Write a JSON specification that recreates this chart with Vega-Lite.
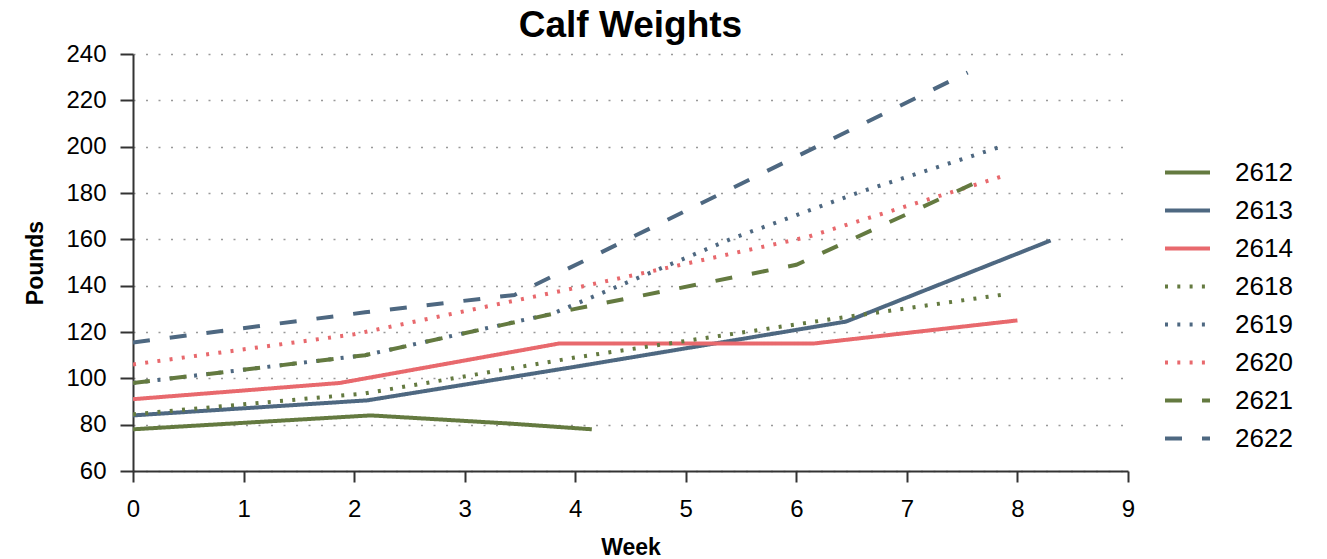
{
  "$schema": "https://vega.github.io/schema/vega-lite/v6.json",
  "width": 995,
  "height": 417,
  "autosize": {"type": "none"},
  "padding": {"left": 133, "top": 54, "right": 199, "bottom": 88},
  "background": "white",
  "title": {"text": "Calf Weights", "fontSize": 37, "font": "Liberation Sans", "fontWeight": "bold", "color": "#000000", "anchor": "middle", "offset": -3},
  "data": {"values": [
    {"id": "2612", "week": 0, "pounds": 78},
    {"id": "2612", "week": 2.15, "pounds": 84},
    {"id": "2612", "week": 3.4, "pounds": 80.5},
    {"id": "2612", "week": 4.15, "pounds": 78},
    {"id": "2613", "week": 0, "pounds": 84},
    {"id": "2613", "week": 2.12, "pounds": 90.5},
    {"id": "2613", "week": 4, "pounds": 105},
    {"id": "2613", "week": 6.45, "pounds": 124.5},
    {"id": "2613", "week": 8.3, "pounds": 159.5},
    {"id": "2614", "week": 0, "pounds": 91},
    {"id": "2614", "week": 1.87, "pounds": 98},
    {"id": "2614", "week": 3.85, "pounds": 115},
    {"id": "2614", "week": 6.15, "pounds": 115},
    {"id": "2614", "week": 8.0, "pounds": 125},
    {"id": "2618", "week": 0, "pounds": 84.5},
    {"id": "2618", "week": 2.1, "pounds": 93.5},
    {"id": "2618", "week": 4, "pounds": 109},
    {"id": "2618", "week": 6.45, "pounds": 126.5},
    {"id": "2618", "week": 7.85, "pounds": 136},
    {"id": "2619", "week": 0, "pounds": 98},
    {"id": "2619", "week": 2.1, "pounds": 110},
    {"id": "2619", "week": 3.8, "pounds": 128},
    {"id": "2619", "week": 5.4, "pounds": 160},
    {"id": "2619", "week": 6.55, "pounds": 180},
    {"id": "2619", "week": 7.85, "pounds": 200},
    {"id": "2620", "week": 0, "pounds": 106},
    {"id": "2620", "week": 2, "pounds": 119},
    {"id": "2620", "week": 4, "pounds": 139},
    {"id": "2620", "week": 6.1, "pounds": 161},
    {"id": "2620", "week": 7.85, "pounds": 187},
    {"id": "2621", "week": 0, "pounds": 98},
    {"id": "2621", "week": 2.1, "pounds": 110},
    {"id": "2621", "week": 4, "pounds": 130},
    {"id": "2621", "week": 6, "pounds": 149},
    {"id": "2621", "week": 7.6, "pounds": 184},
    {"id": "2622", "week": 0, "pounds": 115.5},
    {"id": "2622", "week": 2.1, "pounds": 128.5},
    {"id": "2622", "week": 3.45, "pounds": 136},
    {"id": "2622", "week": 7.55, "pounds": 232}
  ]},
  "mark": {"type": "line", "strokeWidth": 4, "strokeCap": "butt", "clip": true},
  "encoding": {
    "x": {
      "field": "week", "type": "quantitative",
      "scale": {"domain": [0, 9], "nice": false, "zero": false},
      "axis": {
        "title": "Week", "values": [0,1,2,3,4,5,6,7,8,9], "format": "d", "labelFlush": false,
        "grid": false, "domainColor": "#333333", "domainWidth": 2,
        "tickColor": "#333333", "tickWidth": 2, "tickSize": 11,
        "labelFont": "Liberation Sans", "labelFontSize": 24, "labelColor": "#000000", "labelPadding": 15,
        "titleFont": "Liberation Sans", "titleFontSize": 23, "titleFontWeight": "bold", "titleColor": "#000000", "titlePadding": 15
      }
    },
    "y": {
      "field": "pounds", "type": "quantitative",
      "scale": {"domain": [60, 240], "nice": false, "zero": false},
      "axis": {
        "title": "Pounds", "values": [60,80,100,120,140,160,180,200,220,240], "labelFlush": false,
        "grid": true, "gridColor": "#999999", "gridDash": [2, 10.5], "gridWidth": 1.5,
        "domainColor": "#333333", "domainWidth": 2,
        "tickColor": "#333333", "tickWidth": 2, "tickSize": 13,
        "labelFont": "Liberation Sans", "labelFontSize": 24, "labelColor": "#000000", "labelPadding": 14,
        "titleFont": "Liberation Sans", "titleFontSize": 23, "titleFontWeight": "bold", "titleColor": "#000000", "titlePadding": 18
      }
    },
    "color": {
      "field": "id", "type": "nominal",
      "scale": {
        "domain": ["2612","2613","2614","2618","2619","2620","2621","2622"],
        "range": ["#647a40","#4e6881","#e8696d","#647a40","#4e6881","#e8696d","#647a40","#4e6881"]
      },
      "legend": {
        "orient": "none", "legendX": 1030, "legendY": 94, "title": null,
        "symbolType": "stroke", "symbolSize": 2025, "symbolStrokeWidth": 4,
        "labelFont": "Liberation Sans", "labelFontSize": 26, "labelColor": "#000000", "labelOffset": 23,
        "rowPadding": -4, "labelLimit": 200
      }
    },
    "strokeDash": {
      "field": "id", "type": "nominal",
      "scale": {
        "domain": ["2612","2613","2614","2618","2619","2620","2621","2622"],
        "range": [[1,0],[1,0],[1,0],[3,9.3],[3,9.3],[3,9.3],[17,20],[17,20]]
      },
      "legend": null
    }
  },
  "config": {"view": {"stroke": null}}
}
